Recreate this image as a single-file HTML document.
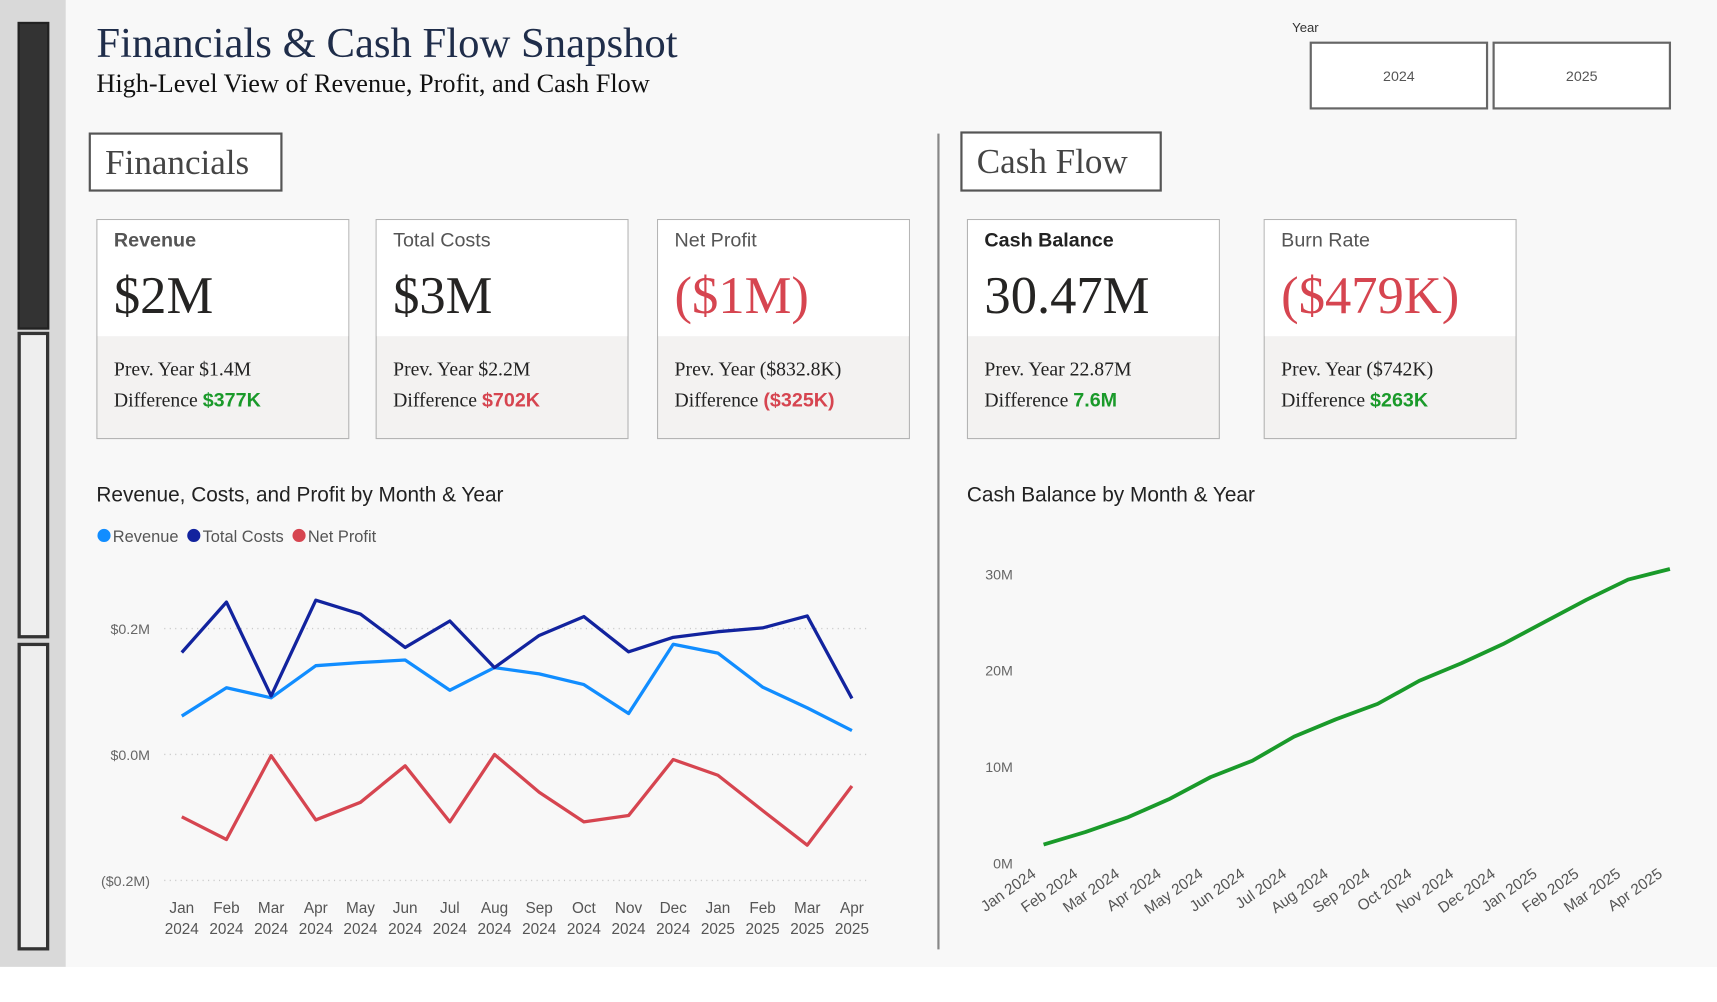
<!DOCTYPE html>
<html><head><meta charset="utf-8">
<style>
html,body{margin:0;padding:0;background:#fff;}
#wrap{width:1568px;height:915px;position:relative;transform:scale(1.09503);transform-origin:0 0;background:#f8f8f8;overflow:hidden;font-family:"Liberation Sans",sans-serif;}
.abs{position:absolute;}
.serif{font-family:"Liberation Serif",serif;}
.card{position:absolute;top:200px;width:231px;height:201px;border:1px solid #b4b4b4;background:#f3f2f1;box-sizing:border-box;}
.card .top{position:absolute;left:0;top:0;right:0;height:106px;background:#fff;}
.card .ttl{position:absolute;left:15px;top:8px;font-size:18px;color:#555;}
.card .val{position:absolute;left:15px;top:42px;font-size:48px;font-family:"Liberation Serif",serif;color:#252423;}
.card .prev{position:absolute;left:15px;top:122px;font-size:18px;font-family:"Liberation Serif",serif;color:#222;line-height:28px;}
.g{color:#1a9a2a;font-weight:bold;font-family:"Liberation Sans",sans-serif;}
.r{color:#d64550;font-weight:bold;font-family:"Liberation Sans",sans-serif;}
.btn{position:absolute;top:38px;width:163px;height:62px;border:2px solid #666;box-sizing:border-box;background:#fff;font-size:13px;color:#555;display:flex;align-items:center;justify-content:center;}
.sec{position:absolute;border:2px solid #555;box-sizing:border-box;background:#fff;font-family:"Liberation Serif",serif;font-size:32px;color:#444;padding-left:13px;line-height:50px;}
</style></head><body>
<div id="wrap">
<div class="abs" style="left:0;top:0;width:60px;height:883px;background:#d9d9d9;"></div>
<div class="abs" style="left:16px;top:20px;width:29px;height:281px;background:#333;border:2px solid #222;box-sizing:border-box;"></div>
<div class="abs" style="left:16px;top:303px;width:29px;height:280px;background:#eee;border:3px solid #333;box-sizing:border-box;"></div>
<div class="abs" style="left:16px;top:587px;width:29px;height:281px;background:#eee;border:3px solid #333;box-sizing:border-box;"></div>
<div class="abs" style="left:0;top:883px;width:1568px;height:40px;background:#fff;"></div>

<div class="abs serif" style="left:88px;top:17px;font-size:39px;color:#1f2d4a;">Financials &amp; Cash Flow Snapshot</div>
<div class="abs serif" style="left:88px;top:64px;font-size:24px;color:#111;">High-Level View of Revenue, Profit, and Cash Flow</div>

<div class="abs" style="left:1180px;top:18px;font-size:12px;color:#333;">Year</div>
<div class="btn" style="left:1196px;">2024</div>
<div class="btn" style="left:1363px;">2025</div>

<div class="sec" style="left:81px;top:121px;width:177px;height:54px;">Financials</div>
<div class="sec" style="left:877px;top:120px;width:184px;height:55px;">Cash Flow</div>
<div class="abs" style="left:856px;top:122px;width:2px;height:745px;background:#888;"></div>

<div class="card" style="left:88px;"><div class="top"></div><div class="ttl" style="font-weight:bold;">Revenue</div><div class="val">$2M</div><div class="prev">Prev. Year $1.4M<br>Difference <span class="g">$377K</span></div></div>
<div class="card" style="left:343px;"><div class="top"></div><div class="ttl">Total Costs</div><div class="val">$3M</div><div class="prev">Prev. Year $2.2M<br>Difference <span class="r">$702K</span></div></div>
<div class="card" style="left:600px;"><div class="top"></div><div class="ttl">Net Profit</div><div class="val" style="color:#d64550">($1M)</div><div class="prev">Prev. Year ($832.8K)<br>Difference <span class="r">($325K)</span></div></div>
<div class="card" style="left:883px;"><div class="top"></div><div class="ttl" style="font-weight:bold;color:#222;">Cash Balance</div><div class="val">30.47M</div><div class="prev">Prev. Year 22.87M<br>Difference <span class="g">7.6M</span></div></div>
<div class="card" style="left:1154px;"><div class="top"></div><div class="ttl">Burn Rate</div><div class="val" style="color:#d64550">($479K)</div><div class="prev">Prev. Year ($742K)<br>Difference <span class="g">$263K</span></div></div>

<div class="abs" style="left:88px;top:442px;font-size:19px;color:#222;">Revenue, Costs, and Profit by Month &amp; Year</div>
<div class="abs" style="left:883px;top:442px;font-size:19px;color:#222;">Cash Balance by Month &amp; Year</div>

<svg id="c1" class="abs" style="left:0;top:470px;" width="850" height="410"></svg>
<svg id="c2" class="abs" style="left:860px;top:470px;" width="700" height="410"></svg>
</div>
<script>
const months=["Jan","Feb","Mar","Apr","May","Jun","Jul","Aug","Sep","Oct","Nov","Dec","Jan","Feb","Mar","Apr"];
const years=["2024","2024","2024","2024","2024","2024","2024","2024","2024","2024","2024","2024","2025","2025","2025","2025"];
const revenue=[0.061,0.106,0.090,0.141,0.146,0.150,0.102,0.138,0.128,0.111,0.065,0.175,0.161,0.107,0.074,0.038];
const totalCosts=[0.162,0.242,0.093,0.245,0.223,0.170,0.212,0.138,0.189,0.219,0.163,0.186,0.195,0.201,0.220,0.089];
const netProfit=[-0.099,-0.135,-0.002,-0.104,-0.076,-0.018,-0.107,0,-0.060,-0.107,-0.097,-0.008,-0.033,-0.089,-0.144,-0.050];
const yTicks1=[0.2,0,-0.2];
const yTickLabels1=["$0.2M","$0.0M","($0.2M)"];
const cashMonths=["Jan 2024","Feb 2024","Mar 2024","Apr 2024","May 2024","Jun 2024","Jul 2024","Aug 2024","Sep 2024","Oct 2024","Nov 2024","Dec 2024","Jan 2025","Feb 2025","Mar 2025","Apr 2025"];
const cashBalance=[1.9,3.2,4.7,6.6,8.9,10.6,13.1,14.9,16.5,18.9,20.7,22.7,25.0,27.3,29.4,30.5];
const yTicks2=[0,10,20,30];
const yTickLabels2=["0M","10M","20M","30M"];

const NS="http://www.w3.org/2000/svg";
function mk(svg,tag,attrs,text){const e=document.createElementNS(NS,tag);for(const k in attrs)e.setAttribute(k,attrs[k]);if(text!==undefined)e.textContent=text;svg.appendChild(e);return e;}

const s1=document.getElementById('c1');
const x1=i=>166+i*(778-166)/15;
const y1=v=>(689-470)-v*575;
const leg=[["Revenue","#118dff"],["Total Costs","#12239e"],["Net Profit","#d64550"]];
let lx=89;
leg.forEach(([n,c])=>{
 const g=mk(s1,'g',{});
 
 
 mk(g,'circle',{cx:lx+6,cy:19,r:6,fill:c});
 const t=mk(g,'text',{x:lx+14,y:25,'font-size':15,fill:'#555'},n);
 lx+=14+t.getComputedTextLength()+8;
});
yTicks1.forEach((v,i)=>{
 const l=mk(s1,'line',{x1:150,x2:795,y1:y1(v),y2:y1(v),stroke:'#c8c8c8','stroke-dasharray':'1,4','stroke-width':1.3});
 
 
 const t=mk(s1,'text',{x:137,y:y1(v)+5,'text-anchor':'end','font-size':13,fill:'#666'},yTickLabels1[i]);
 
 
});
months.forEach((m,i)=>{
 const t=mk(s1,'text',{x:x1(i),y:364,'text-anchor':'middle','font-size':14,fill:'#555'},m);
 
 
 const t2=mk(s1,'text',{x:x1(i),y:383,'text-anchor':'middle','font-size':14,fill:'#555'},years[i]);
 
 
});
function line(svg,data,xf,yf,color,name,w){
 const p=mk(svg,'polyline',{points:data.map((v,i)=>xf(i)+','+yf(v)).join(' '),fill:'none',stroke:color,'stroke-width':w,'stroke-linejoin':'round'});
 
 
}
line(s1,revenue,x1,y1,'#118dff','revenue-line',3);
line(s1,totalCosts,x1,y1,'#12239e','total-costs-line',3);
line(s1,netProfit,x1,y1,'#d64550','net-profit-line',3);

const s2=document.getElementById('c2');
const x2=i=>953-860+i*(1525-953)/15;
const y2=v=>(788-470)-v*8.8;
yTicks2.forEach((v,i)=>{
 const t=mk(s2,'text',{x:65,y:y2(v)+5,'text-anchor':'end','font-size':13,fill:'#666'},yTickLabels2[i]);
 
 
});
cashMonths.forEach((m,i)=>{
 const t=mk(s2,'text',{x:x2(i)-6,y:330,'text-anchor':'end','font-size':14,fill:'#555',transform:`rotate(-35 ${x2(i)-6} 330)`},m);
 
 
});
line(s2,cashBalance,x2,y2,'#1a9a2a','cash-balance-line',3.5);
</script>
</body></html>
